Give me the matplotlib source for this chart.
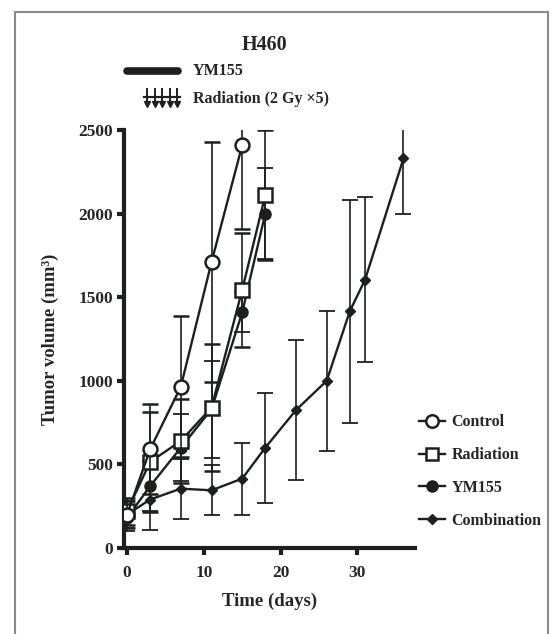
import matplotlib
matplotlib.use("Agg")
import matplotlib.pyplot as plt
from matplotlib.lines import Line2D
from matplotlib.patches import Rectangle

plt.rcParams['font.family'] = ['Liberation Serif', 'DejaVu Serif']
plt.rcParams['font.weight'] = 'bold'

INK = '#1c211e'
TXT = '#262626'

# ---- data ----
days_short = [0, 3, 7, 11, 15]
control = [200, 590, 965, 1710, 2410]
control_err = [80, 270, 420, 720, 500]

days_rad = [0, 3, 7, 11, 15, 18]
radiation = [220, 515, 640, 840, 1545, 2110]
radiation_err = [80, 300, 250, 380, 340, 390]

ym155 = [180, 370, 600, 830, 1410, 2000]
ym155_err = [80, 150, 200, 290, 120, 270]

days_comb = [0, 3, 7, 11, 15, 18, 22, 26, 29, 31, 36]
combination = [200, 290, 355, 345, 415, 600, 825, 1000, 1415, 1605, 2330]
combination_err = [80, 180, 180, 150, 215, 330, 420, 420, 665, 495, 330]

x_ticks = [0, 10, 20, 30]
y_ticks = [0, 500, 1000, 1500, 2000, 2500]

W, H = 558, 634
fig = plt.figure(figsize=(W / 100, H / 100), dpi=100)
fig.patch.set_facecolor('white')

ax = fig.add_axes([124 / W, 1 - 548 / H, (415 - 124) / W, (548 - 130) / H])

ekw = dict(color=INK, lw=1.7, capsize=5.5, capthick=1.3, elinewidth=1.2, clip_on=True)

ax.errorbar(days_comb, combination, yerr=combination_err, marker='D', ms=5,
            mfc=INK, mec=INK, **ekw, zorder=3)
ax.errorbar(days_rad, ym155, yerr=ym155_err, marker='o', ms=8,
            mfc=INK, mec=INK, **ekw, zorder=4)
ax.errorbar(days_rad, radiation, yerr=radiation_err, marker='s', ms=9.5,
            mfc='white', mec=INK, mew=1.8, **ekw, zorder=5)
ax.errorbar(days_short, control, yerr=control_err, marker='o', ms=10,
            mfc='white', mec=INK, mew=1.8, **ekw, zorder=6)

ax.set_xlim(-0.4, 37.5)
ax.set_ylim(0, 2500)
ax.set_xticks(x_ticks)
ax.set_yticks(y_ticks)
for s in ['top', 'right']:
    ax.spines[s].set_visible(False)
for s in ['left', 'bottom']:
    ax.spines[s].set_linewidth(3)
    ax.spines[s].set_color(INK)
ax.tick_params(axis='both', direction='out', length=5, width=3, color=INK,
               labelsize=12.5, labelcolor=TXT)
ax.tick_params(axis='x', pad=7)
ax.tick_params(axis='y', pad=3)
for lab in ax.get_xticklabels() + ax.get_yticklabels():
    lab.set_fontweight('bold')

ax.set_ylabel('Tumor volume (mm\u00b3)', fontsize=13.5, fontweight='bold',
              color=TXT, labelpad=14)
ax.set_xlabel('Time (days)', fontsize=13.5, fontweight='bold', color=TXT, labelpad=9)

# legend for groups
handles = [
    Line2D([], [], color=INK, lw=1.7, marker='o', ms=9, mfc='white', mec=INK, mew=1.8),
    Line2D([], [], color=INK, lw=1.7, marker='s', ms=9, mfc='white', mec=INK, mew=1.8),
    Line2D([], [], color=INK, lw=1.7, marker='o', ms=8, mfc=INK, mec=INK),
    Line2D([], [], color=INK, lw=1.7, marker='D', ms=5.5, mfc=INK, mec=INK),
]
labels = ['Control', 'Radiation', 'YM155', 'Combination']
leg = fig.legend(handles, labels, loc='upper left', bbox_to_anchor=(405 / W, 1 - 400 / H),
                 frameon=False, fontsize=11.5, handlelength=1.6, handletextpad=0.4,
                 labelspacing=1.05)
for t in leg.get_texts():
    t.set_fontweight('bold')
    t.set_color(TXT)

# title and treatment legend
fig.text(265 / W, 1 - 45 / H, 'H460', ha='center', va='center', fontsize=14.5,
         fontweight='bold', color=TXT)
fig.add_artist(Line2D([127 / W, 178 / W], [1 - 71 / H, 1 - 71 / H], color=INK, lw=5.5,
                      solid_capstyle='round', transform=fig.transFigure))
fig.text(193 / W, 1 - 71 / H, 'YM155', ha='left', va='center', fontsize=11.5,
         fontweight='bold', color=TXT)
# radiation symbol: five downward arrows crossed by a line
fig.add_artist(Line2D([144 / W, 180 / W], [1 - 97 / H, 1 - 97 / H], color=INK, lw=1.6,
                      transform=fig.transFigure))
for i in range(5):
    xa = (147 + i * 7.5) / W
    fig.add_artist(Line2D([xa, xa], [1 - 89 / H, 1 - 104 / H], color=INK, lw=1.4,
                          transform=fig.transFigure))
    fig.add_artist(Line2D([xa], [1 - 104 / H], color=INK, marker='v', ms=4.5, lw=0,
                          transform=fig.transFigure))
fig.text(193 / W, 1 - 99 / H, 'Radiation (2 Gy \u00d75)', ha='left', va='center',
         fontsize=11.5, fontweight='bold', color=TXT)

# outer frame
fig.add_artist(Rectangle((15 / W, -0.05), (548 - 15) / W, 1.05 - 12 / H, fill=False,
                         ec='#8a8a8a', lw=1.5, transform=fig.transFigure))

fig.savefig('out.png', dpi=100, facecolor='white')
